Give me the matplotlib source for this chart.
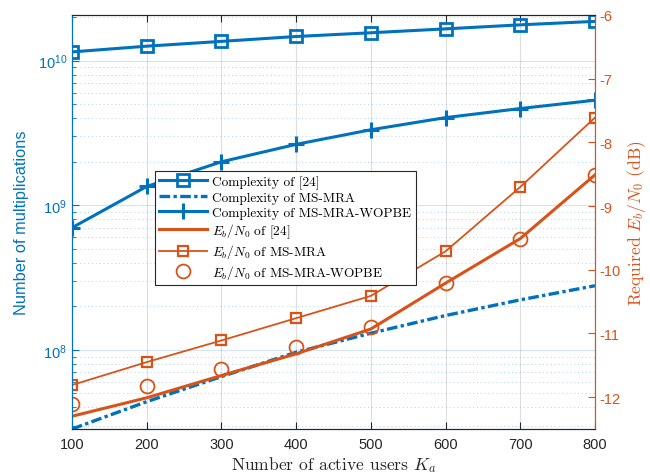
import matplotlib
matplotlib.use('Agg')
import matplotlib.pyplot as plt
from matplotlib.font_manager import FontProperties
from matplotlib.ticker import LogLocator, NullFormatter, FixedLocator, FormatStrFormatter

plt.rcParams['font.family'] = ['Liberation Sans', 'DejaVu Sans']
plt.rcParams['mathtext.fontset'] = 'custom'
plt.rcParams['mathtext.rm'] = 'Liberation Sans'
plt.rcParams['axes.unicode_minus'] = False

# ---- data ----
K = [100, 200, 300, 400, 500, 600, 700, 800]
cplx_24 = [1.15e10, 1.26e10, 1.36e10, 1.47e10, 1.56e10, 1.66e10, 1.77e10, 1.87e10]
cplx_msmra = [2.84e7, 4.39e7, 6.54e7, 9.64e7, 1.305e8, 1.73e8, 2.22e8, 2.78e8]
cplx_wopbe = [7.0e8, 1.35e9, 2.0e9, 2.64e9, 3.33e9, 4.04e9, 4.67e9, 5.33e9]
ebn0_24 = [-12.30, -12.01, -11.66, -11.32, -10.93, -10.21, -9.51, -8.51]
ebn0_msmra = [-11.81, -11.45, -11.11, -10.76, -10.41, -9.71, -8.70, -7.61]
ebn0_wopbe = [-12.11, -11.83, -11.56, -11.21, -10.90, -10.21, -9.51, -8.51]
right_ticks = [-12, -11, -10, -9, -8, -7, -6]

labels = ['Complexity of [24]', 'Complexity of MS-MRA', 'Complexity of MS-MRA-WOPBE',
          r'$E_b/N_0$ of [24]', r'$E_b/N_0$ of MS-MRA', r'$E_b/N_0$ of MS-MRA-WOPBE']

BLUE = '#0072BD'
ORANGE = '#D95319'
DARK = '#262626'

fig = plt.figure(figsize=(6.5, 4.77), dpi=100)
ax = fig.add_axes([72/650, 47/477, 523/650, 414/477])
ax2 = ax.twinx()

# left axis (complexity)
l1, = ax.plot(K, cplx_24, '-', color=BLUE, lw=2.2, marker='s', ms=8, mfc='none', mew=2.0)
l2, = ax.plot(K, cplx_msmra, color=BLUE, lw=2.4, linestyle=(0, (3.2, 1.0, 1.0, 1.0)))
l3, = ax.plot(K, cplx_wopbe, '-', color=BLUE, lw=2.2, marker='+', ms=11, mew=2.2)
ax.set_yscale('log')
ax.set_ylim(2.84e7, 2.07e10)
ax.set_xlim(100, 800)
ax.set_xticks(K)
ax.yaxis.set_major_locator(LogLocator(base=10, numticks=10))
ax.yaxis.set_minor_locator(LogLocator(base=10, subs=range(2, 10), numticks=10))
ax.yaxis.set_minor_formatter(NullFormatter())

# right axis (Eb/N0)
l4, = ax2.plot(K, ebn0_24, '-', color=ORANGE, lw=2.2)
l5, = ax2.plot(K, ebn0_msmra, '-', color=ORANGE, lw=1.3, marker='s', ms=6.5, mfc='none', mew=1.6)
l6, = ax2.plot(K, ebn0_wopbe, color=ORANGE, marker='o', ms=10, mfc='none', mew=1.3, linestyle='none')
ax2.set_ylim(-12.5, -6)
ax2.yaxis.set_major_locator(FixedLocator(right_ticks))
ax2.yaxis.set_major_formatter(FormatStrFormatter('%d'))

# grids
ax.grid(True, which='major', axis='x', color='#262626', alpha=0.15, lw=0.8)
ax.grid(True, which='major', axis='y', color=BLUE, alpha=0.18, lw=0.8)
ax.grid(True, which='minor', axis='y', color=BLUE, alpha=0.3, lw=0.7, linestyle=(0, (1, 3)))
ax.set_axisbelow(True)

# spines & ticks
for a in (ax, ax2):
    a.spines['top'].set_color(DARK)
    a.spines['bottom'].set_color(DARK)
    a.spines['left'].set_color(BLUE)
    a.spines['right'].set_color(ORANGE)
    for s in a.spines.values():
        s.set_linewidth(0.8)

ax.tick_params(axis='x', which='both', direction='in', top=True, bottom=True, colors=DARK,
               labelsize=10.5, length=5, width=0.8, pad=6)
ax.tick_params(axis='y', which='major', direction='in', left=True, right=False, colors=BLUE,
               labelsize=10.5, length=5, width=0.8)
ax.tick_params(axis='y', which='minor', direction='in', left=True, right=False, colors=BLUE,
               length=3, width=0.6)
ax2.tick_params(axis='y', which='both', direction='in', right=True, left=False, colors=ORANGE,
                labelsize=10.5, length=5, width=0.8)
ax2.tick_params(axis='x', which='both', top=False, bottom=False)

serif = dict(fontfamily=['cmr10', 'DejaVu Serif'], math_fontfamily='cm')
ax.set_xlabel(r'Number of active users $K_a$', fontsize=12.6, color=DARK, labelpad=2, **serif)
ax.set_ylabel('Number of multiplications', fontsize=11.8, color=BLUE, labelpad=6)
ax2.set_ylabel(r'Required $E_b/N_0$ (dB)', fontsize=12.6, color=ORANGE, labelpad=3, **serif)

lp = FontProperties(family=['cmr10', 'DejaVu Serif'], size=9.6, math_fontfamily='cm')
leg = ax2.legend([l1, l2, l3, l4, l5, l6], labels, prop=lp, loc='upper left',
                 bbox_to_anchor=(0.159, 0.623), frameon=True, fancybox=False, framealpha=1,
                 edgecolor=DARK, handlelength=3.6, labelspacing=0.2, borderpad=0.3,
                 handletextpad=0.4, borderaxespad=0)
leg.get_frame().set_linewidth(0.8)

fig.savefig('out.png', dpi=100)
